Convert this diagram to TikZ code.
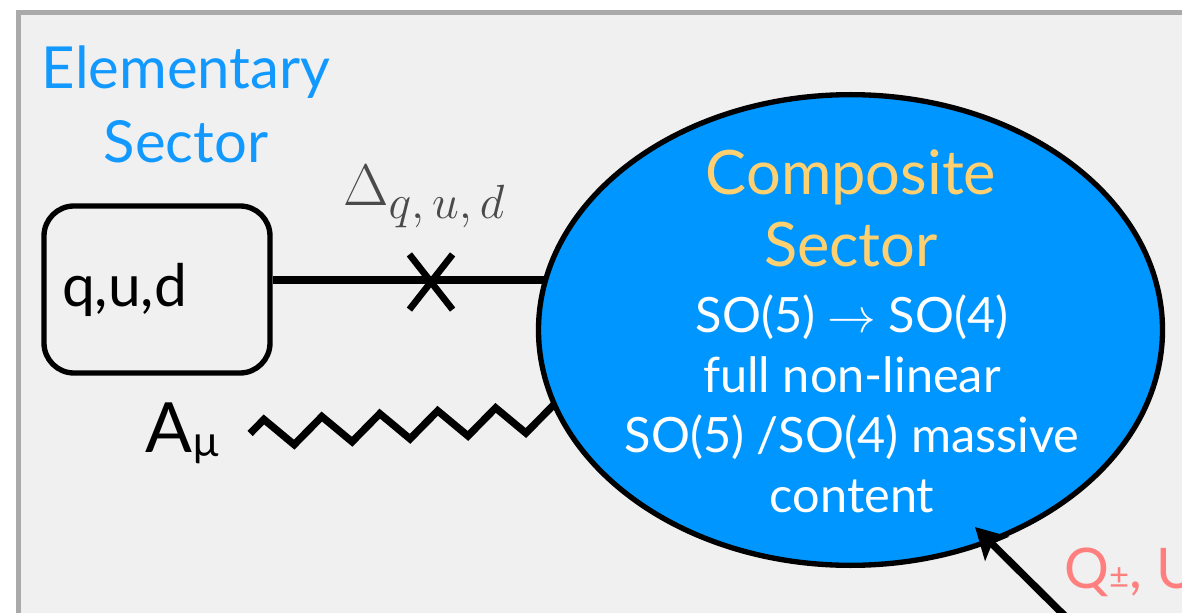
\RequirePackage{fix-cm}
\documentclass[tikz,border=0pt]{standalone}
\usepackage[no-math]{fontspec}
\setmainfont{Lato}
\usetikzlibrary{shapes.geometric,arrows.meta,decorations.pathmorphing,backgrounds}
\DeclareMathSizes{44}{44}{36}{26}
\DeclareMathSizes{36.5}{36.5}{26}{18}

\definecolor{panelbg}{HTML}{F0F0F0}
\definecolor{framegray}{HTML}{AAAAAA}
\definecolor{elemblue}{HTML}{1199FF}
\definecolor{compblue}{HTML}{0096FF}
\definecolor{compgold}{HTML}{FFD070}
\definecolor{chargered}{HTML}{FF7F7F}
\definecolor{deltagray}{HTML}{4A4A4A}

\begin{document}
\begin{tikzpicture}[x=0.75pt, y=-0.75pt,
            wire/.style={line width=5.5pt},
            sectorfont/.style={font=\fontsize{43.5}{55.5}\selectfont, align=center}]
            %\draw[lightgray] (0, 0) grid[step=50] (1182, 613);
            \useasboundingbox (0, 0) rectangle (1182, 613);

            \node[ellipse, draw, line width=4pt, fill=compblue, minimum width=468pt, minimum height=353pt, inner sep=0pt] (comp) at (850.5, 330) {};
            \node[sectorfont, font=\fontsize{46}{54}\selectfont, text=compgold] (comptitle) at (851, 208.5) {Composite\\Sector};
            \node[font=\fontsize{36.5}{45}\selectfont, align=center, text=white] (comptext) at (852, 404) {SO(5) $\rightarrow$ SO(4)\\full non-linear\\SO(5) /SO(4) massive\\content};

            \node[sectorfont, text=elemblue] (elemtitle) at (186, 104) {Elementary\\Sector};
            \node[draw, rounded corners=22.5pt, line width=4pt, font=\fontsize{44}{50}\selectfont, text width=142.5pt, align=left, inner xsep=13.5pt, minimum height=125.25pt] (qud) at (157, 289.5) {q,u,d};
            \node[minimum width=32pt, minimum height=41pt, inner sep=0pt] (mix) at (431, 282) {};
            \node[anchor=base west, text=deltagray, font=\fontsize{44}{50}\selectfont, inner sep=0pt] (delta) at (343, 205) {$\Delta_{q,\,u,\,d}$};
            \node[font=\fontsize{52}{60}\selectfont, inner xsep=22.5pt, inner ysep=0pt] (amu) at (182.5, 433.5) {A\raisebox{-3pt}{\fontsize{32}{36}\selectfont µ}};
            \node[anchor=base west, text=chargered, font=\fontsize{42}{48}\selectfont, inner sep=0pt] (qlabel) at (1064, 588) {Q{\fontsize{26}{30}\selectfont ±}, U};

            \coordinate (qudport) at ([yshift=7.1pt]qud.east);
            \coordinate (gaugeend) at (640, 414);
            \coordinate (qtail) at (1080, 631);
            \coordinate (qtip) at (975, 527);

            \begin{scope}[on background layer]
            \fill[white] (0, 0) rectangle (1182, 613);
            \draw[line width=3.75pt, draw=framegray, fill=panelbg] (18, 12.5) rectangle (1300, 700);
            \draw[wire] (qudport) -- (qudport -| comp.center);
            \draw[wire, decorate, decoration={zigzag, segment length=43.5pt, amplitude=10pt}] (amu.east) -- (gaugeend);
            \end{scope}

            \draw[line width=5pt] (mix.north west) -- (mix.south east);
            \draw[line width=5pt] (mix.north east) -- (mix.south west);
            \draw[wire, -{Stealth[length=23pt, width=25pt, inset=5pt]}] (qtail) -- (qtip);
        \end{tikzpicture}
\end{document}
